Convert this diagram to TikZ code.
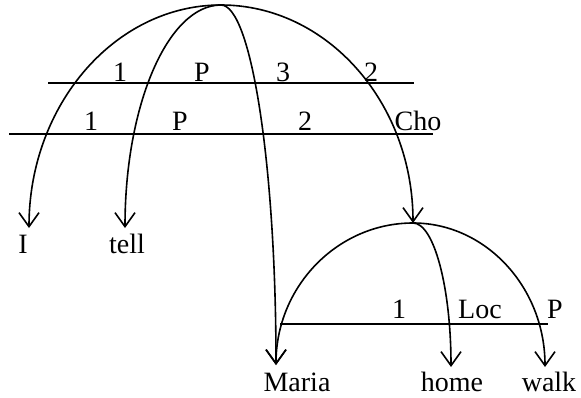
\documentclass[tikz,border=0pt]{standalone}
\usepackage{fontspec}
\setmainfont{Liberation Serif}
\usetikzlibrary{arrows.meta,calc}

\tikzset{
  link/.style={line width=1.6pt,-{Straight Barb[length=14pt,width=20pt,line width=1.6pt]}},
  rule/.style={line width=1.6pt},
  lab/.style={anchor=base,inner sep=0pt,font=\fontsize{28}{30}\selectfont}
}
% quarter ellipse from the top point down to a tip
\newcommand{\swoop}[2]{\draw[link] (#1) .. controls ($(#1)!0.552!(#1-|#2)$) and ($(#2)!0.552!(#1-|#2)$) .. (#2);}

\begin{document}
\begin{tikzpicture}[x=1pt,y=-1pt]
\useasboundingbox (0,0) rectangle (581,397);

\coordinate (top) at (221,5);
\coordinate (sub) at (413,223);
\coordinate (tipI) at (29,228);
\coordinate (tipTell) at (125,228);
\coordinate (tipMaria) at (276,365);
\coordinate (tipHome) at (451,367);
\coordinate (tipWalk) at (545,367);

\node[lab] (I) at (23,253) {I};
\node[lab] (tell) at (127,253) {tell};
\node[lab] (Maria) at (297,391) {Maria};
\node[lab] (home) at (452,391) {home};
\node[lab] (walk) at (549,391) {walk};

% strata
\draw[rule] (48,83) -- (414,83);
\node[lab] (u1) at (120,81) {1};
\node[lab] (uP) at (202,81) {P};
\node[lab] (u3) at (283,81) {3};
\node[lab] (u2) at (371,81) {2};

\draw[rule] (9,134) -- (433,134);
\node[lab] (l1) at (91,130) {1};
\node[lab] (lP) at (180,130) {P};
\node[lab] (l2) at (305,130) {2};
\node[lab] (lCho) at (418,130) {Cho};

\draw[rule] (280,324) -- (548,324);
\node[lab] (s1) at (399,318) {1};
\node[lab] (sLoc) at (480,318) {Loc};
\node[lab] (sP) at (555,318) {P};

% arcs
\swoop{top}{tipI}
\swoop{top}{tipTell}
\swoop{top}{tipMaria}
\swoop{top}{sub}
\swoop{sub}{tipMaria}
\swoop{sub}{tipHome}
\swoop{sub}{tipWalk}
\end{tikzpicture}
\end{document}
